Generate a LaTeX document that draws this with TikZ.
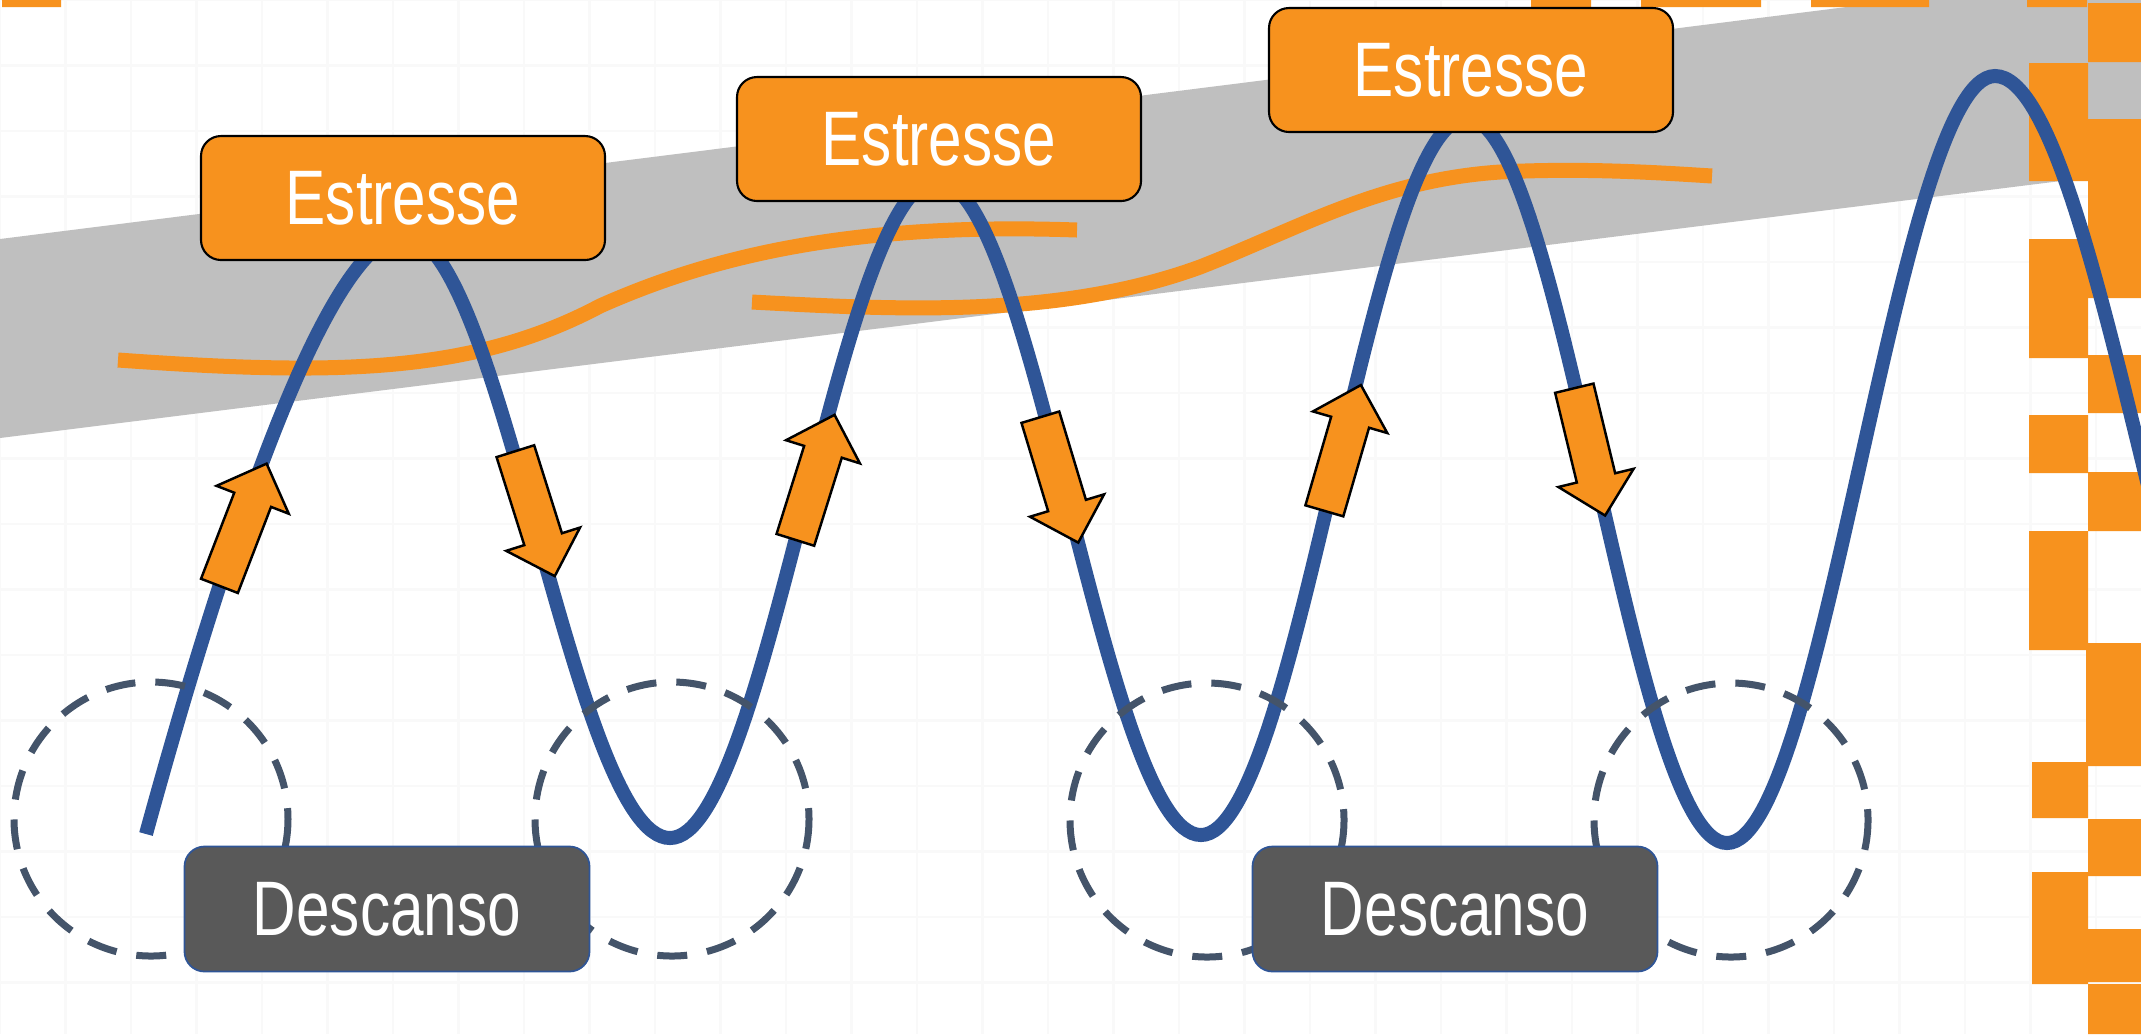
\documentclass[tikz,border=0pt]{standalone}
\usepackage{fontspec}
\newfontfamily\narrowsans[FakeStretch=0.78]{Liberation Sans}
\usetikzlibrary{shapes.arrows}
\definecolor{stressorange}{RGB}{247,146,30}
\definecolor{waveblue}{RGB}{47,85,151}
\definecolor{bandgray}{RGB}{191,191,191}
\definecolor{restgray}{RGB}{89,89,89}
\definecolor{ringslate}{RGB}{68,84,106}
\tikzset{
	boxtext/.style ={
		text=white,
		font={\narrowsans\fontsize{22}{26}\selectfont},
	},
	stressbox/.append style={
		boxtext,
		draw=black,
		line width=0.6pt,
		fill=stressorange,
		rounded corners=2mm,
		minimum width=40.4mm,
		minimum height=12.4mm,
	},
	restbox/.append style={
		boxtext,
		draw=waveblue,
		line width=0.5pt,
		fill=restgray,
		rounded corners=2mm,
		minimum width=40.5mm,
		minimum height=12.5mm,
	},
	flowarrow/.append style={
		single arrow,
		draw=black,
		line width=0.7pt,
		fill=stressorange,
		inner sep=0pt,
		inner ysep=1.85mm,
		single arrow head extend=1.9mm,
		minimum height=13.1mm,
		anchor=tail,
	},
	wave/.append style={
		draw=waveblue,
		line width=1.4mm,
	},
	levelline/.append style={
		draw=stressorange,
		line width=1.5mm,
	},
	restring/.append style={
		draw=ringslate,
		line width=0.7mm,
		dash pattern=on 3mm off 2mm,
	},
	gridline/.append style={
		draw=black!2.5,
		line width=0.25mm,
	}
}

\begin{document}
\begin{tikzpicture}[x=0.1mm, y=-0.1mm]
		\clip (0,0) rectangle (2141,1034);
		\fill[white] (0,0) rectangle (2141,1034);
		\draw[gridline] (0,0) grid[step=6.55mm] (2141,1034);
		
		% rising band
		\fill[bandgray] (0,239) -- (2141,-30) -- (2141,171) -- (0,438) -- cycle;
		
		% edge blocks
		\fill[stressorange] (2,0) rectangle (61,7) (1531,0) rectangle (1591,7)
			(1641,0) rectangle (1761,7) (1811,0) rectangle (1929,7) (2027,0) rectangle (2087,7);
		\fill[stressorange] (2029,63) rectangle (2088,181) (2029,239) rectangle (2088,358)
			(2029,415) rectangle (2088,473) (2029,531) rectangle (2088,650)
			(2032,762) rectangle (2088,818) (2032,872) rectangle (2088,984);
		\fill[stressorange] (2088,3) rectangle (2141,62) (2088,119) rectangle (2141,298)
			(2088,355) rectangle (2141,413) (2088,472) rectangle (2141,531)
			(2086,643) rectangle (2141,766) (2088,819) rectangle (2141,876)
			(2088,929) rectangle (2141,982) (2088,984) rectangle (2141,1034);
		
		% stress level
		\draw[levelline] (118,360) .. controls (330,375) and (470,375) .. (600,306)
			.. controls (710,257) and (850,222) .. (1077,230);
		\draw[levelline] (752,302) .. controls (900,310) and (1060,318) .. (1200,267)
			.. controls (1300,228) and (1380,180) .. (1500,172)
			.. controls (1580,168) and (1650,172) .. (1712,176);
		
		% wave
		\draw[wave] (146,834) .. controls (201,634) and (318,235) .. (405,235)
			.. controls (501,235) and (574,838) .. (670,838)
			.. controls (767,838) and (840,180) .. (937,180)
			.. controls (1033,180) and (1105,835) .. (1201,835)
			.. controls (1298,835) and (1370,118) .. (1467,118)
			.. controls (1561,118) and (1633,843) .. (1727,843)
			.. controls (1824,843) and (1898,76) .. (1995,76)
			.. controls (2101,76) and (2184,850) .. (2290,850);
		
		\node(riseA)[flowarrow, rotate=68.9] at (219,587) {};
		\node(fallA)[flowarrow, rotate=-72.5] at (515,450) {};
		\node(riseB)[flowarrow, rotate=72.6] at (795,541) {};
		\node(fallB)[flowarrow, rotate=-73.2] at (1040,416) {};
		\node(riseC)[flowarrow, rotate=73.8] at (1324,512) {};
		\node(fallC)[flowarrow, rotate=-76.4] at (1574,387) {};
		
		\draw[restring] (151,819) circle[radius=137];
		\draw[restring] (672,819) circle[radius=137];
		\draw[restring] (1207,820) circle[radius=137];
		\draw[restring] (1731,820) circle[radius=137];
		
		\node(stressA)[stressbox] at (403,198) {Estresse};
		\node(stressB)[stressbox] at (939,139) {Estresse};
		\node(stressC)[stressbox] at (1471,70) {Estresse};
		\node(restA)[restbox] at (387,909) {Descanso};
		\node(restB)[restbox] at (1455,909) {Descanso};
		\end{tikzpicture}
\end{document}
